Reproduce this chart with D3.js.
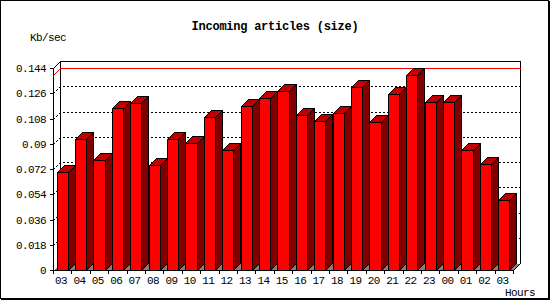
<!DOCTYPE html>
<html>
<head>
<meta charset="utf-8">
<script src="https://cdn.jsdelivr.net/npm/d3@7"></script>
<style>
  body { margin: 0; background: #fff; }
  svg text { font-family: "Liberation Mono", "DejaVu Sans Mono", monospace; fill: #000; }
  svg text.small { font-size: 11px; letter-spacing: -0.6px; }
</style>
</head>
<body>
<div id="chart"></div>
<script>
// Incoming articles (size), per hour
const hours = ["03", "04", "05", "06", "07", "08", "09", "10", "11", "12", "13", "14",
               "15", "16", "17", "18", "19", "20", "21", "22", "23", "00", "01", "02", "03"];
const kbSec = [0.0701, 0.0932, 0.0782, 0.1153, 0.1188, 0.0746, 0.0932, 0.0903, 0.1088, 0.0853,
               0.1167, 0.1224, 0.1274, 0.1103, 0.1060, 0.1117, 0.1302, 0.1053, 0.1252, 0.1388,
               0.1200, 0.1200, 0.0853, 0.0753, 0.0501];
const yTicks = [0, 0.018, 0.036, 0.054, 0.072, 0.09, 0.108, 0.126, 0.144];
const yTickLabels = ["0", "0.018", "0.036", "0.054", "0.072", "0.09", "0.108", "0.126", "0.144"];

const width = 550;
const height = 300;
const plot = {left: 53, right: 513, top: 68, bottom: 270};
const depth = 7;

const svg = d3.select("#chart")
    .append("svg")
    .attr("width", width)
    .attr("height", height)
    .attr("shape-rendering", "crispEdges");

// outer frame
svg.append("rect")
    .attr("x", 0.5).attr("y", 0.5)
    .attr("width", width - 2).attr("height", height - 2)
    .attr("fill", "#fff").attr("stroke", "#000");
svg.append("path")
    .attr("d", `M${width - 0.5},1 V${height - 0.5} H1`)
    .attr("fill", "none").attr("stroke", "#000");

const xScale = d3.scaleBand()
    .domain(d3.range(hours.length))
    .range([plot.left, plot.right])
    .paddingInner(0);

const yScale = d3.scaleLinear()
    .domain([0, 0.144])
    .range([plot.bottom, plot.top]);

const px = v => Math.round(v) + 0.5;

// back wall frame
const bx0 = plot.left + depth, bx1 = plot.right + depth;
const by0 = plot.top - depth, by1 = plot.bottom - depth;
svg.append("path")
    .attr("d", `M${px(bx0)},${px(by1)} V${px(by0)} H${px(bx1)} V${px(by1)}`)
    .attr("fill", "none").attr("stroke", "#000");

// dotted grid lines, side wall + back wall
svg.selectAll(".grid")
    .data(yTicks.slice(1, -1))
    .enter()
    .append("path")
        .attr("class", "grid")
        .attr("d", function(d) {
            const y = yScale(d);
            return `M${px(plot.left)},${px(y)} L${px(bx0)},${px(y - depth)} H${px(bx1)}`;
        })
        .attr("fill", "none")
        .attr("stroke", "#000")
        .attr("stroke-dasharray", "2,2");

// maximum line
const maxVal = d3.max(kbSec);
svg.append("path")
    .attr("d", `M${px(plot.left)},${px(yScale(maxVal))} L${px(bx0)},${px(yScale(maxVal) - depth)} H${px(bx1)}`)
    .attr("fill", "none").attr("stroke", "#ff0000");

// floor
svg.append("path")
    .attr("d", `M${px(plot.left)},${px(plot.bottom)} H${px(plot.right)} L${px(bx1)},${px(by1)} H${px(bx0)} Z`)
    .attr("fill", "#808080").attr("stroke", "none");

// bars
const bars = svg.selectAll(".bar")
    .data(kbSec)
    .enter()
    .append("g")
        .attr("class", "bar");

function barBox(d, i) {
    const x0 = Math.round(xScale(i) + xScale.bandwidth() * 0.2) + 0.5;
    const x1 = Math.round(xScale(i) + xScale.bandwidth() * 0.8) + 0.5;
    const y0 = px(yScale(d));
    const y1 = px(plot.bottom);
    return {x0, x1, y0, y1};
}

bars.append("path")
    .attr("d", function(d, i) {
        const b = barBox(d, i);
        return `M${b.x1},${b.y1} V${b.y0} L${b.x1 + depth},${b.y0 - depth} V${b.y1 - depth} Z`;
    })
    .attr("fill", "#800000").attr("stroke", "#000");

bars.append("path")
    .attr("d", function(d, i) {
        const b = barBox(d, i);
        return `M${b.x0},${b.y0} H${b.x1} L${b.x1 + depth},${b.y0 - depth} H${b.x0 + depth} Z`;
    })
    .attr("fill", "#c00000").attr("stroke", "#000");

bars.append("rect")
    .attr("x", function(d, i) { return barBox(d, i).x0; })
    .attr("y", function(d, i) { return barBox(d, i).y0; })
    .attr("width", function(d, i) { const b = barBox(d, i); return b.x1 - b.x0; })
    .attr("height", function(d, i) { const b = barBox(d, i); return b.y1 - b.y0; })
    .attr("fill", "#ff0000").attr("stroke", "#000");

// front axes
svg.append("path")
    .attr("d", `M${px(bx0)},${px(by0)} L${px(plot.left)},${px(plot.top)} V${px(plot.bottom)} H${px(plot.right)} L${px(bx1)},${px(by1)}`)
    .attr("fill", "none").attr("stroke", "#000");

// y ticks and labels
svg.selectAll(".ytick")
    .data(yTicks)
    .enter()
    .append("line")
        .attr("class", "ytick")
        .attr("x1", plot.left - 3).attr("x2", plot.left)
        .attr("y1", function(d) { return px(yScale(d)); })
        .attr("y2", function(d) { return px(yScale(d)); })
        .attr("stroke", "#000");

svg.selectAll(".ylabel")
    .data(yTicks)
    .enter()
    .append("text")
        .attr("class", "ylabel small")
        .attr("x", 46)
        .attr("y", function(d) { return yScale(d) + 4; })
        .attr("text-anchor", "end")
        .text(function(d, i) { return yTickLabels[i]; });

// x ticks and labels
svg.selectAll(".xtick")
    .data(d3.range(hours.length + 1))
    .enter()
    .append("line")
        .attr("class", "xtick")
        .attr("x1", function(i) { return px(plot.left + i * xScale.bandwidth()); })
        .attr("x2", function(i) { return px(plot.left + i * xScale.bandwidth()); })
        .attr("y1", plot.bottom).attr("y2", plot.bottom + 4)
        .attr("stroke", "#000");

svg.selectAll(".xlabel")
    .data(hours)
    .enter()
    .append("text")
        .attr("class", "xlabel small")
        .attr("x", function(d, i) { return xScale(i) + 2; })
        .attr("y", 284)
        .text(function(d) { return d; });

svg.append("text")
    .attr("class", "small")
    .attr("x", 535).attr("y", 296)
    .attr("text-anchor", "end")
    .text("Hours");

svg.append("text")
    .attr("class", "small")
    .attr("x", 30).attr("y", 41)
    .text("Kb/sec");

svg.append("text")
    .attr("x", 275).attr("y", 30)
    .attr("text-anchor", "middle")
    .style("font-size", "12px")
    .style("letter-spacing", "-0.25px")
    .style("font-weight", "bold")
    .text("Incoming articles (size)");
</script>
</body>
</html>
